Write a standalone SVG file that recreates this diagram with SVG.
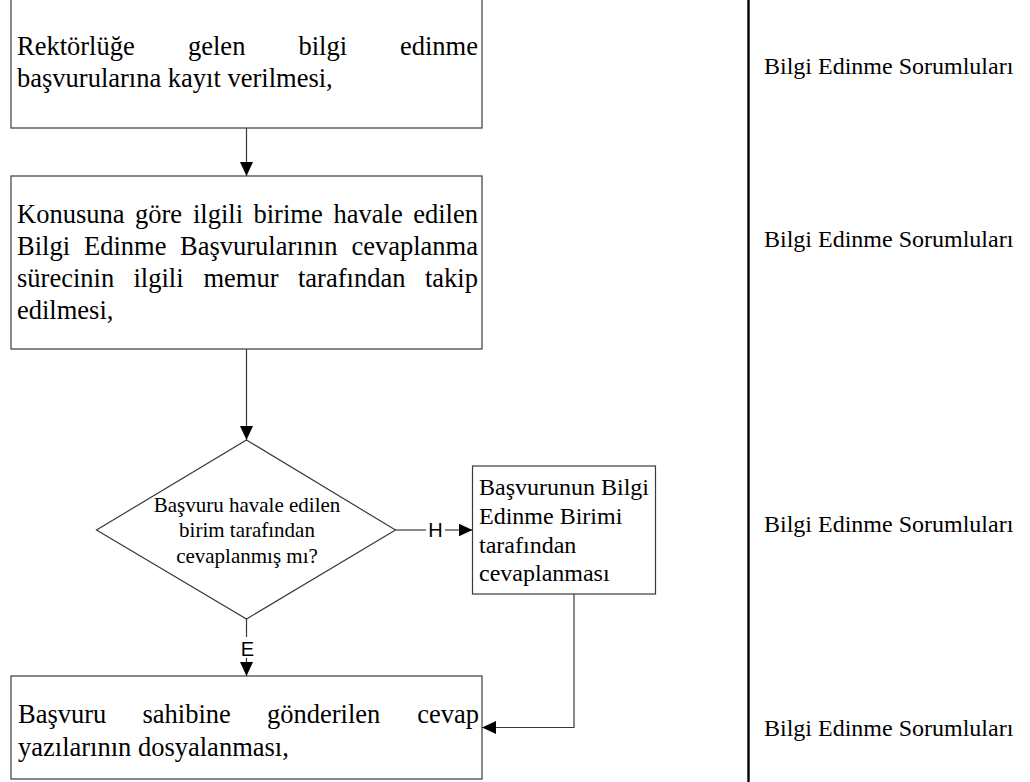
<svg xmlns="http://www.w3.org/2000/svg" width="1030" height="782" viewBox="0 0 1030 782">
<defs>
<style>
.box{fill:#fff;stroke:#3a3a3a;stroke-width:1.2}
.conn{fill:none;stroke:#3a3a3a;stroke-width:1.2}
.t{font-family:"Liberation Serif","Times New Roman",serif;font-size:26.5px;fill:#000}
.td{font-family:"Liberation Serif","Times New Roman",serif;font-size:21px;fill:#000;text-anchor:middle}
.tr{font-family:"Liberation Serif","Times New Roman",serif;font-size:24px;fill:#000}
.lbl{font-family:"Liberation Sans",Arial,sans-serif;font-size:20px;fill:#000;text-anchor:middle}
.e{text-anchor:end}
</style>
<marker id="arr" viewBox="0 0 14 13" refX="14" refY="6.5" markerWidth="14" markerHeight="13" markerUnits="userSpaceOnUse" orient="auto">
<path d="M0,0 L14,6.5 L0,13 z" fill="#000"/>
</marker>
</defs>
<rect width="1030" height="782" fill="#fff"/>

<g id="connectors">
<line class="conn" x1="246.5" y1="128" x2="246.5" y2="176" marker-end="url(#arr)"/>
<line class="conn" x1="246.5" y1="349" x2="246.5" y2="440" marker-end="url(#arr)"/>
<line class="conn" x1="395.5" y1="530" x2="426" y2="530"/>
<line class="conn" x1="445" y1="530" x2="472.5" y2="530" marker-end="url(#arr)"/>
<text class="lbl" x="435.5" y="537">H</text>
<line class="conn" x1="246.5" y1="619" x2="246.5" y2="637"/>
<line class="conn" x1="246.5" y1="658" x2="246.5" y2="676" marker-end="url(#arr)"/>
<text class="lbl" x="247.5" y="656">E</text>
<polyline class="conn" points="574,594 574,727.5 482,727.5" marker-end="url(#arr)"/>
<line x1="748.5" y1="0" x2="748.5" y2="782" stroke="#000" stroke-width="2.4"/>
</g>

<g id="node1">
<rect class="box" x="11" y="-2" width="471" height="130"/>
<text class="t" x="17" y="55">Rektörlüğe</text>
<text class="t" x="188" y="55">gelen</text>
<text class="t" x="298.5" y="55">bilgi</text>
<text class="t e" x="478" y="55">edinme</text>
<text class="t" x="17" y="87">başvurularına kayıt verilmesi,</text>
</g>

<g id="node2">
<rect class="box" x="11" y="176" width="471" height="173"/>
<text class="t" x="17" y="223">Konusuna</text>
<text class="t" x="135" y="223">göre</text>
<text class="t" x="193" y="223">ilgili</text>
<text class="t" x="253.5" y="223">birime</text>
<text class="t" x="333.5" y="223">havale</text>
<text class="t e" x="478" y="223">edilen</text>
<text class="t" x="17" y="255">Bilgi</text>
<text class="t" x="84" y="255">Edinme</text>
<text class="t" x="180" y="255">Başvurularının</text>
<text class="t e" x="478" y="255">cevaplanma</text>
<text class="t" x="17" y="287">sürecinin</text>
<text class="t" x="133.5" y="287">ilgili</text>
<text class="t" x="203.5" y="287">memur</text>
<text class="t" x="298" y="287">tarafından</text>
<text class="t e" x="478" y="287">takip</text>
<text class="t" x="17" y="319">edilmesi,</text>
</g>

<g id="decision">
<polygon class="box" points="246.5,440 395.5,530 246.5,619 96.5,530"/>
<text class="td" x="247" y="512">Başvuru havale edilen</text>
<text class="td" x="247" y="537">birim tarafından</text>
<text class="td" x="247" y="563">cevaplanmış mı?</text>
</g>

<g id="node3">
<rect class="box" x="472.5" y="466" width="183" height="128"/>
<text class="tr" x="479" y="495">Başvurunun Bilgi</text>
<text class="tr" x="479" y="524">Edinme Birimi</text>
<text class="tr" x="479" y="552.5">tarafından</text>
<text class="tr" x="479" y="581">cevaplanması</text>
</g>

<g id="node4">
<rect class="box" x="11" y="676" width="471" height="103"/>
<text class="t" x="18" y="723">Başvuru</text>
<text class="t" x="142.5" y="723">sahibine</text>
<text class="t" x="267" y="723">gönderilen</text>
<text class="t e" x="479" y="723">cevap</text>
<text class="t" x="18" y="756">yazılarının dosyalanması,</text>
</g>

<g id="roles">
<text class="tr" x="764" y="74">Bilgi Edinme Sorumluları</text>
<text class="tr" x="764" y="247">Bilgi Edinme Sorumluları</text>
<text class="tr" x="764" y="532">Bilgi Edinme Sorumluları</text>
<text class="tr" x="764" y="736">Bilgi Edinme Sorumluları</text>
</g>
</svg>
